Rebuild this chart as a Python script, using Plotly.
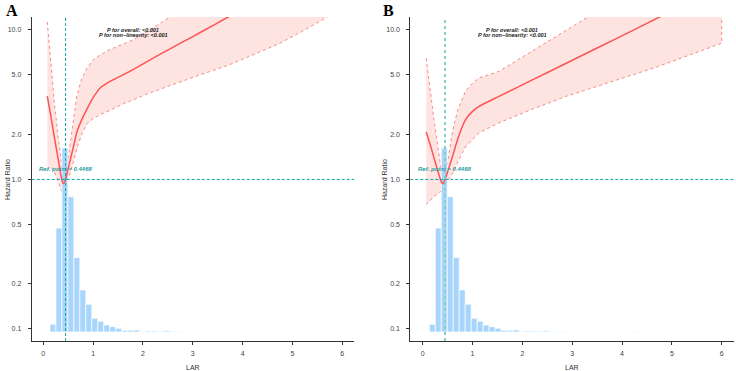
import math
import plotly.graph_objects as go

# ---------------- data ----------------
ref_point = 0.4468
p_overall = "P for overall: <0.001"
p_nonlin = "P for non\u2212linearity: <0.001"

# Panel A restricted cubic spline
A_x = [0.08, 0.15, 0.22, 0.30, 0.35, 0.39, 0.41, 0.4468, 0.52, 0.60, 0.67, 0.77, 0.87, 1.0, 1.14, 1.34,
       1.6, 1.81, 2.1, 2.47, 2.8, 3.14, 3.71, 4.2, 4.7, 5.2, 5.7, 6.0]
A_hr = [3.6, 2.67, 1.93, 1.36, 1.08, 0.95, 0.94, 1.0, 1.26, 1.63, 2.05, 2.5, 2.93, 3.52, 4.09, 4.52,
        5.0, 5.45, 6.19, 7.24, 8.31, 9.57, 12.2, 15.2, 18.9, 23.4, 29.0, 33.0]
A_upper = [11.3, 5.9, 3.3, 1.9, 1.35, 1.12, 1.05, 1.0, 1.55, 2.5, 3.59, 4.7, 5.5, 6.3, 6.8, 7.4,
           8.0, 8.6, 9.8, 11.9, 13.9, 16.5, 21.5, 27.0, 34.0, 42.0, 53.0, 61.0]
A_lower = [1.15, 1.21, 1.13, 0.97, 0.86, 0.81, 0.84, 1.0, 1.05, 1.3, 1.6, 2.0, 2.35, 2.55, 2.71, 2.9,
           3.2, 3.41, 3.75, 4.2, 4.55, 5.0, 5.8, 6.8, 8.0, 9.8, 12.2, 13.8]

# Panel B restricted cubic spline
B_x = [0.07, 0.15, 0.22, 0.30, 0.38, 0.41, 0.4468, 0.52, 0.60, 0.70, 0.86, 1.0, 1.13, 1.53, 2.2,
       2.87, 3.5, 4.21, 4.73, 5.3, 6.0]
B_hr = [2.08, 1.71, 1.42, 1.15, 0.95, 0.94, 1.0, 1.18, 1.43, 1.85, 2.51, 2.85, 3.08, 3.59, 4.63,
        5.96, 7.57, 9.9, 12.1, 15.0, 19.6]
B_upper = [6.47, 3.92, 2.6, 1.7, 1.1, 1.03, 1.0, 1.45, 2.1, 2.9, 3.9, 4.4, 4.77, 5.28, 7.2,
           9.9, 13.3, 18.6, 23.7, 31.0, 43.0]
B_lower = [0.68, 0.72, 0.77, 0.80, 0.84, 0.88, 1.0, 1.0, 1.1, 1.3, 1.65, 1.85, 2.05, 2.39, 2.95,
           3.59, 4.2, 5.0, 5.7, 6.7, 8.15]

# LAR distribution histogram (percent of subjects per bin)
hist_start = 0.133
hist_width = 0.12
hist_pct = [1.23, 16.57, 29.35, 21.57, 11.87, 6.71, 4.42, 2.19, 1.71, 1.12, 0.85, 0.59, 0.27, 0.27,
            0.32, 0.05, 0.16, 0.16, 0.11, 0.21, 0.08, 0.08, 0.05, 0.05, 0, 0, 0, 0, 0, 0, 0, 0, 0, 0,
            0.08]

x_ticks = [0, 1, 2, 3, 4, 5, 6]
y_ticks = [0.1, 0.2, 0.5, 1.0, 2.0, 5.0, 10.0]
y_ticktext = ["0.1", "0.2", "0.5", "1.0", "2.0", "5.0", "10.0"]
x_title = "LAR"
y_title = "Hazard Ratio"
panel_labels = ["A", "B"]

# ---------------- style ----------------
W, H = 736, 371
LINE = "#ff5252"
BAND = "rgba(253,205,200,0.55)"
BAND_EDGE = "#f58a8a"
BAR = "#a8d5fb"
TEAL = "#16a3a3"
TEAL_TXT = "#2a9d9d"
TEAL_LIGHT = "#86cfc9"
AXC = "#333333"
FONT = "Liberation Sans"

y_dom = [1 - 341 / H, 1 - 17 / H]
hr_range = [math.log10(0.083), math.log10(12.2)]
bar_range = [-1.436, 50.24]

panels = [
    dict(x=A_x, hr=A_hr, up=A_upper, lo=A_lower, dom=[31.7 / W, 354 / W], xr=[-0.233, 6.235],
         xa="x", ya=["y", "y2", "y3"], vdash="3px,2px", vcol=TEAL, vw=1),
    dict(x=B_x, hr=B_hr, up=B_upper, lo=B_lower, dom=[410.3 / W, 734.3 / W], xr=[-0.249, 6.253],
         xa="x2", ya=["y4", "y5", "y6"], vdash="dot", vcol=TEAL_LIGHT, vw=2),
]

fig = go.Figure()
centers = [hist_start + hist_width * (i + 0.5) for i in range(len(hist_pct))]

layout = dict(width=W, height=H, margin=dict(l=0, r=0, t=0, b=0), showlegend=False,
              plot_bgcolor="white", paper_bgcolor="white",
              font=dict(family=FONT, size=7, color="#333333"))
annotations = []
shapes = []

for i, p in enumerate(panels):
    ya_fill, ya_bar, ya_line = p["ya"]
    # confidence band (closed polygon)
    fig.add_trace(go.Scatter(x=p["x"] + p["x"][::-1], y=p["up"] + p["lo"][::-1], fill="toself",
                             fillcolor=BAND, mode="lines",
                             line=dict(color=BAND_EDGE, width=1, dash="dot"),
                             xaxis=p["xa"], yaxis=ya_fill, hoverinfo="skip"))
    # histogram
    fig.add_trace(go.Bar(x=centers, y=hist_pct, width=hist_width, marker=dict(color=BAR,
                         line=dict(color="white", width=0.7)), xaxis=p["xa"], yaxis=ya_bar))
    # spline
    fig.add_trace(go.Scatter(x=p["x"], y=p["hr"], mode="lines", line=dict(color=LINE, width=1.5,
                             shape="spline", smoothing=0.5), xaxis=p["xa"], yaxis=ya_line))

    xkey = "xaxis" if i == 0 else "xaxis2"
    layout[xkey] = dict(domain=p["dom"], range=p["xr"], anchor=ya_fill, tickvals=x_ticks,
                        showline=True, linecolor=AXC, linewidth=1, ticks="outside", ticklen=3,
                        tickcolor=AXC, showgrid=False, zeroline=False, ticklabelstandoff=3,
                        tickfont=dict(size=7, color="#444"))
    ynum = [ya.replace("y", "") for ya in p["ya"]]
    k_fill = "yaxis" + ynum[0]
    k_bar = "yaxis" + ynum[1]
    k_line = "yaxis" + ynum[2]
    layout[k_fill] = dict(domain=y_dom, type="log", range=hr_range, anchor=p["xa"],
                          tickvals=y_ticks, ticktext=y_ticktext, showline=True, linecolor=AXC,
                          linewidth=1, ticks="outside", ticklen=3, tickcolor=AXC, showgrid=False,
                          zeroline=False, ticklabelstandoff=5, tickfont=dict(size=7, color="#444"))
    layout[k_bar] = dict(range=bar_range, overlaying=ya_fill, anchor=p["xa"], visible=False)
    layout[k_line] = dict(type="log", range=hr_range, overlaying=ya_fill, anchor=p["xa"],
                          visible=False)

    # reference lines
    shapes.append(dict(type="line", xref=p["xa"], yref=ya_fill + " domain", x0=ref_point,
                       x1=ref_point, y0=0, y1=1, layer="above",
                       line=dict(color=p["vcol"], width=p["vw"], dash=p["vdash"])))
    shapes.append(dict(type="line", xref=p["xa"] + " domain", yref=ya_fill, x0=0, x1=1,
                       y0=1, y1=1, layer="above", line=dict(color=TEAL, width=1, dash="3px,2px")))

    # texts
    annotations.append(dict(xref=p["xa"], yref=ya_fill, x=ref_point, y=math.log10(1.0),
                            yanchor="bottom", yshift=5, showarrow=False,
                            text="<b><i>Ref. point = %.4f</i></b>" % ref_point,
                            font=dict(size=6, color=TEAL_TXT, family=FONT)))
    annotations.append(dict(xref=p["xa"], yref=ya_fill, x=1.8, y=1.0, showarrow=False,
                            text="<b><i>%s</i></b>" % p_overall,
                            font=dict(size=5.5, color="#222", family=FONT)))
    annotations.append(dict(xref=p["xa"], yref=ya_fill, x=1.8, y=0.963, showarrow=False,
                            text="<b><i>%s</i></b>" % p_nonlin,
                            font=dict(size=5.5, color="#222", family=FONT)))
    # axis titles
    cx = (p["dom"][0] + p["dom"][1]) / 2
    annotations.append(dict(xref="paper", yref="paper", x=cx, y=1 - 367 / H, showarrow=False,
                            xanchor="center", yanchor="middle",
                            text=x_title, font=dict(size=7, color="#333", family=FONT)))
    annotations.append(dict(xref="paper", yref="paper", x=(7 if i == 0 else 384) / W,
                            y=1 - 180 / H, showarrow=False, textangle=-90, text=y_title,
                            xanchor="center", yanchor="middle",
                            font=dict(size=7, color="#333", family=FONT)))
    annotations.append(dict(xref="paper", yref="paper", x=(12 if i == 0 else 388) / W,
                            y=1 - 10 / H, showarrow=False, text="<b>%s</b>" % panel_labels[i],
                            xanchor="center", yanchor="middle",
                            font=dict(size=16, color="black", family="Liberation Serif")))

layout["annotations"] = annotations
layout["shapes"] = shapes
fig.update_layout(**layout)
fig.write_html("out.html")
